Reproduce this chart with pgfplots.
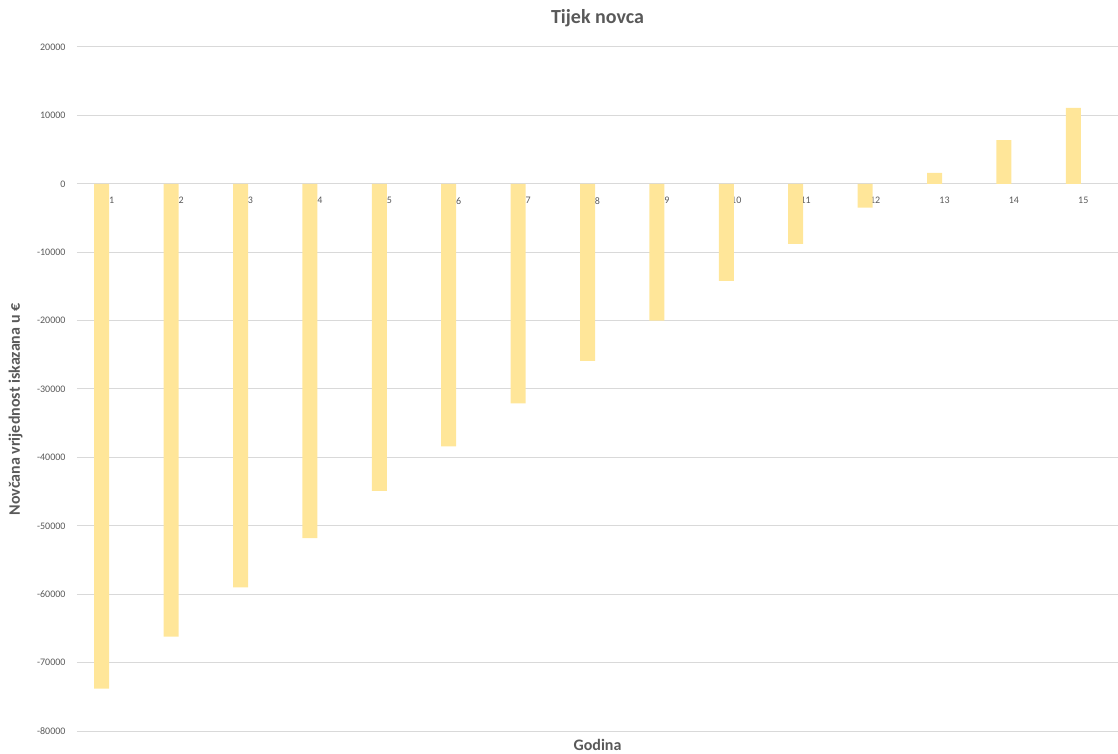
\documentclass[border=0pt]{standalone}
\usepackage{fontspec}
\setmainfont{Carlito}
\usepackage{pgfplots}
\pgfplotsset{compat=1.18}
\definecolor{barc}{HTML}{FFE699}
\definecolor{txt}{HTML}{595959}
\definecolor{gridc}{HTML}{D9D9D9}
\begin{document}
\begin{tikzpicture}
\useasboundingbox (-77pt,-22pt) rectangle (1041pt,731pt);
\begin{axis}[
  at={(0pt,0pt)}, anchor=south west,
  width=1041pt, height=684pt, scale only axis,
  xmin=0.5, xmax=15.5, ymin=-80000, ymax=20000,
  axis x line=middle, axis y line=left,
  axis line style={draw=none},
  xtick={1,...,15}, ytick={-80000,-70000,...,20000},
  scaled y ticks=false,
  major tick length=0pt,
  ymajorgrids, grid style={gridc, line width=1pt},
  /pgf/number format/.cd, 1000 sep={}, assume math mode=true, /pgfplots/.cd,
  tick label style={font=\fontsize{10}{12}\selectfont, text=txt},
  yticklabel style={anchor=east, xshift=-8pt},
  xticklabel style={anchor=north, yshift=-10pt},
  title={Tijek novca},
  title style={font=\fontsize{20}{24}\selectfont\bfseries, text=txt, at={(axis description cs:0.5,1)}, anchor=center, yshift=23pt},
  xlabel={Godina},
  xlabel style={font=\fontsize{16}{19}\selectfont\bfseries, text=txt, at={(axis description cs:0.5,0)}, anchor=north, yshift=-5pt},
  ylabel={Novčana vrijednost iskazana u €},
  ylabel style={font=\fontsize{16}{19}\selectfont\bfseries, text=txt, at={(axis description cs:-0.049,0.47)}, anchor=south},
  ybar, bar width=15pt, bar shift=-10pt,
  clip=false,
]
\addplot[fill=barc, draw=none] coordinates {
(1,-73800) (2,-66200) (3,-59000) (4,-51800) (5,-44900) (6,-38400) (7,-32100) (8,-25900)
(9,-20000) (10,-14200) (11,-8800) (12,-3500) (13,1600) (14,6400) (15,11100)};
\end{axis}
\end{tikzpicture}
\end{document}
